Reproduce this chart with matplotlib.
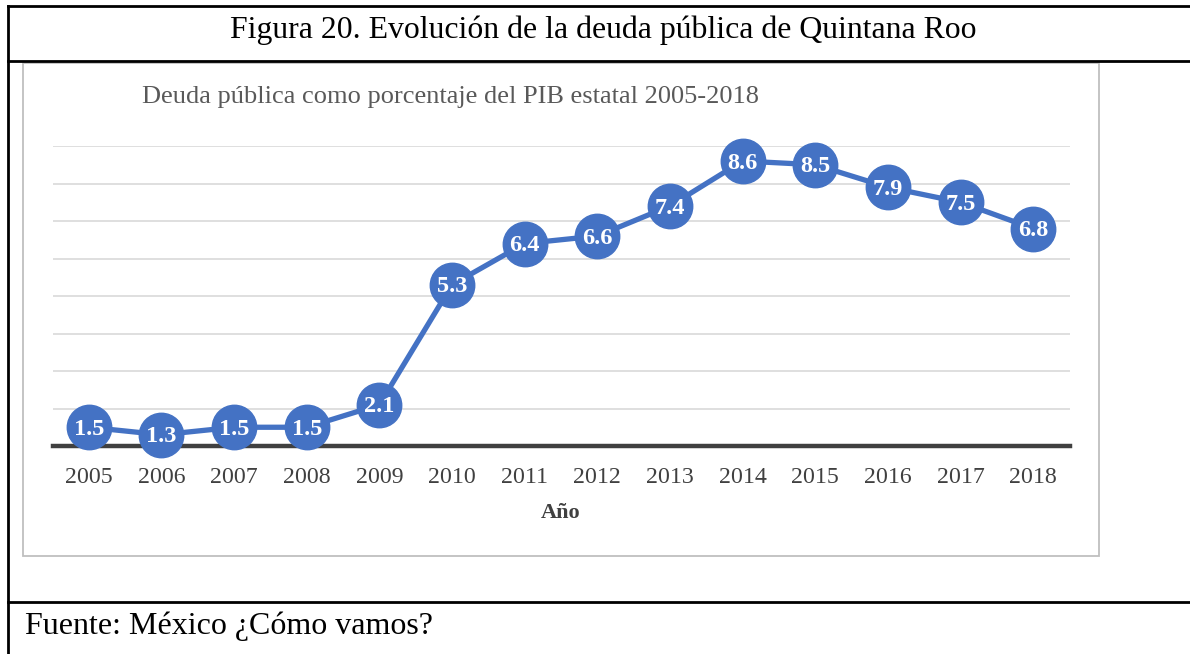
import matplotlib
matplotlib.use("Agg")
import matplotlib.pyplot as plt
from matplotlib.lines import Line2D
from matplotlib.patches import Rectangle

years = ["2005", "2006", "2007", "2008", "2009", "2010", "2011",
         "2012", "2013", "2014", "2015", "2016", "2017", "2018"]
deuda = [1.5, 1.3, 1.5, 1.5, 2.1, 5.3, 6.4, 6.6, 7.4, 8.6, 8.5, 7.9, 7.5, 6.8]
labels = ["1.5", "1.3", "1.5", "1.5", "2.1", "5.3", "6.4",
          "6.6", "7.4", "8.6", "8.5", "7.9", "7.5", "6.8"]

title = "Figura 20. Evolución de la deuda pública de Quintana Roo"
subtitle = "Deuda pública como porcentaje del PIB estatal 2005-2018"
xlabel = "Año"
source = "Fuente: México ¿Cómo vamos?"

plt.rcParams['font.family'] = ['Liberation Serif', 'DejaVu Serif']

W, H = 1190, 654
fig = plt.figure(figsize=(W / 100, H / 100), dpi=100)

def fx(px):
    return px / W

def fy(py):
    return 1 - py / H

# outer table borders
for (x0, y0, x1, y1) in [(8, 6, 1190, 6), (8, 6, 8, 654), (8, 61, 1190, 61), (8, 602, 1190, 602)]:
    fig.add_artist(Line2D([fx(x0), fx(x1)], [fy(y0), fy(y1)], color='black', lw=2.0,
                          transform=fig.transFigure))

# chart box
fig.add_artist(Rectangle((fx(22.5), fy(556)), fx(1099) - fx(22.5), fy(62.5) - fy(556),
                         transform=fig.transFigure, fill=False, edgecolor='#BFBFBF', lw=1.3))

fig.text(fx(603), fy(30), title, ha='center', va='center', fontsize=22.9, color='black')
fig.text(fx(142), fy(97), subtitle, ha='left', va='center', fontsize=19, color='#595959')
fig.text(fx(561), fy(513), xlabel, ha='center', va='center', fontsize=16, fontweight='bold', color='#404040')
fig.text(fx(25), fy(626), source, ha='left', va='center', fontsize=23, color='black')

ax = fig.add_axes([fx(52.5), fy(446), fx(1069.5) - fx(52.5), fy(146) - fy(446)])
x = list(range(len(years)))
ax.set_xlim(-0.5, len(years) - 0.5)
ax.set_ylim(1, 9)
ax.set_yticks(range(1, 10))
ax.yaxis.grid(True, color='#D9D9D9', lw=1.2)
ax.set_axisbelow(True)
ax.tick_params(axis='y', left=False, labelleft=False)
for s in ax.spines.values():
    s.set_visible(False)
ax.axhline(1, color='#404040', lw=3.2, zorder=2, clip_on=False)

ax.plot(x, deuda, color='#4472C4', lw=3.8, marker='o', markersize=32,
        markerfacecolor='#4472C4', markeredgecolor='#4472C4', zorder=3, clip_on=False)
for xi, yi, lab in zip(x, deuda, labels):
    ax.annotate(lab, (xi, yi), xytext=(0, -1.5), textcoords='offset points',
                ha='center', va='center', color='white', fontsize=17.5,
                fontweight='bold', zorder=4)

ax.set_xticks(x)
ax.set_xticklabels(years, fontsize=17.2, color='#404040')
ax.tick_params(axis='x', bottom=False, pad=11.5)

fig.savefig("out.png", dpi=100)
